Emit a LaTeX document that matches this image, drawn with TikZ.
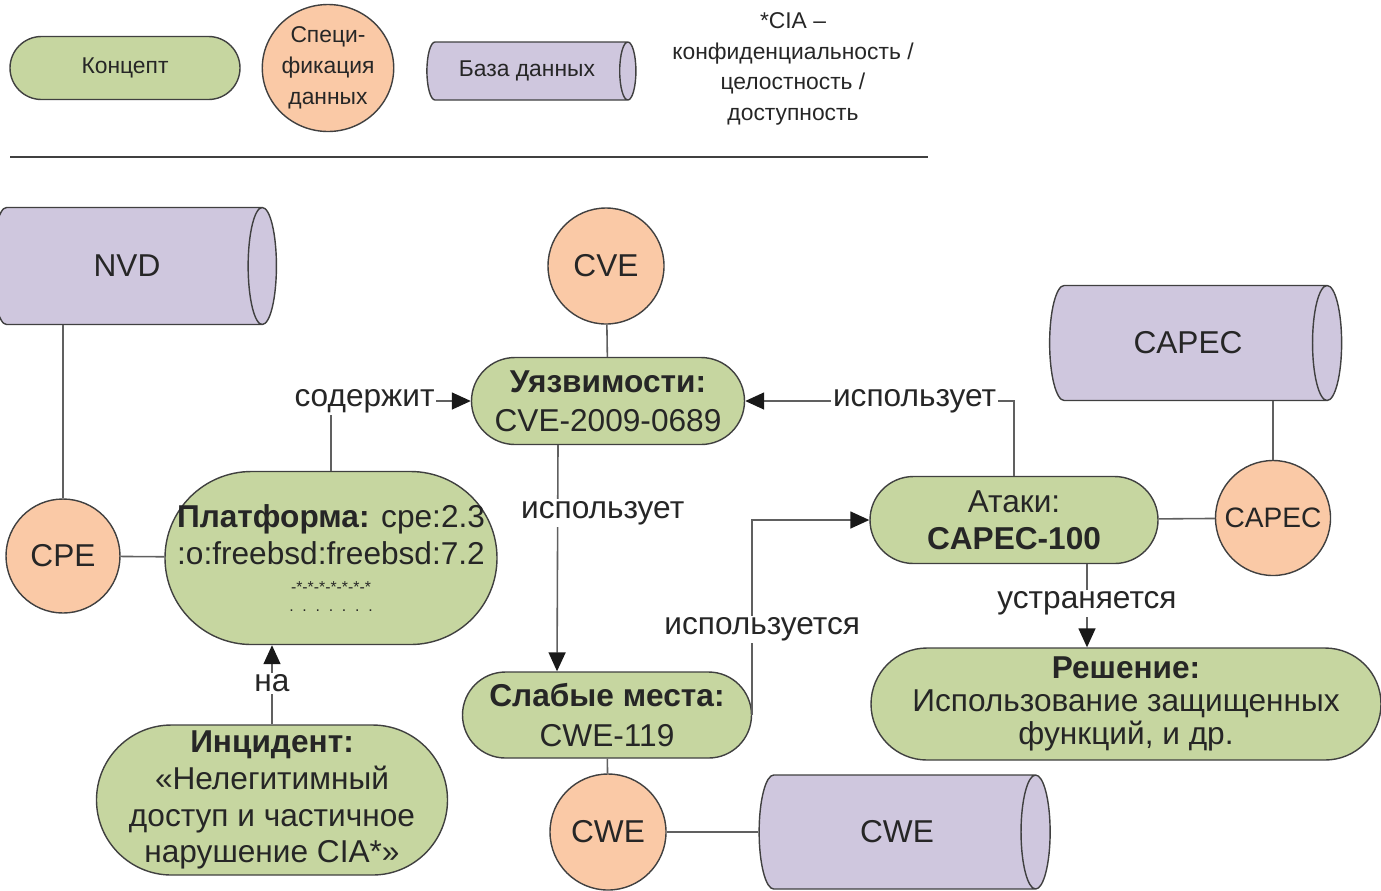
\documentclass[tikz,border=0pt]{standalone}
\usepackage{fontspec}
\setmainfont{Liberation Sans}
\usepackage{tikz}
\newcommand{\pxl}{0.02cm}
\newcommand{\labelsize}{\fontsize{18}{21}\selectfont}
\newcommand{\legendsize}{\fontsize{13}{17.5}\selectfont}
\newcommand{\tinysize}{\fontsize{9}{9}\selectfont}
\usetikzlibrary{arrows.meta,calc,shapes.geometric,shapes.misc}
\definecolor{conceptgreen}{RGB}{198,214,160}
\definecolor{specorange}{RGB}{250,201,166}
\definecolor{dbpurple}{RGB}{207,199,222}
\definecolor{outline}{RGB}{64,64,64}
\definecolor{linkgray}{RGB}{96,96,96}
\tikzset{
  >={Triangle[length=3.8mm,width=3.4mm,color=black!90]},
  font=\labelsize,
  concept/.style={draw=outline,fill=conceptgreen,shape=rectangle,rounded corners=#1,line width=0.8pt,inner sep=0,align=center,text=black!85},
  spec/.style={draw=outline,fill=specorange,shape=circle,line width=0.8pt,inner sep=0,minimum size=116*\pxl,align=center,text=black!85},
  database/.style={draw=outline,fill=dbpurple,shape=cylinder,aspect=1.3,line width=0.8pt,inner sep=0,text=black!85},
  line/.style={draw=linkgray,line width=0.9pt},
  tag/.style={fill=white,inner sep=1pt,text=black!85}
}

\begin{document}
\begin{tikzpicture}[x=\pxl,y=-\pxl]
    \useasboundingbox (0,0) rectangle (1381,890);

    \node (lconcept) [concept=0.63cm,minimum width=230*\pxl,minimum height=63*\pxl,font=\legendsize] at (125,68) {Концепт};
    \node (lspec) [spec,shape=ellipse,minimum width=113*\pxl,minimum height=127*\pxl,font=\legendsize] at (328,68) {Специ-\\фикация\\данных};
    \node (ldb) [database,aspect=0.8,minimum height=209*\pxl,minimum width=58*\pxl,font=\legendsize] at (527,71) {База данных};
    \node (cianote) [align=center,font=\legendsize,text=black!85] at (793,69) {*CIA --\\конфиденциальность /\\целостность /\\доступность};
    \draw [outline,line width=1.2pt] (10,157) -- (928,157);

    \node (nvd) [database,minimum height=284*\pxl,minimum width=117*\pxl] at (127,266) {NVD};
    \node (cve) [spec] at (606,266) {CVE};
    \node (vuln) [concept=0.87cm,minimum width=273*\pxl,minimum height=87*\pxl,font=\fontsize{18}{22}\selectfont] at (608,401) {\textbf{Уязвимости:}\\CVE-2009-0689};
    \node (capecdb) [database,minimum height=292*\pxl,minimum width=115*\pxl] at (1188,343) {CAPEC};
    \node (cpe) [spec,minimum size=114*\pxl] at (63,556) {CPE};
    \node (plat) [concept=1.73cm,minimum width=332*\pxl,minimum height=173*\pxl] at (331,558) {\textbf{Платформа:} cpe:2.3\\:o:freebsd:freebsd:7.2\\[-5pt]{\tinysize -*-*-*-*-*-*-*}\\[-10pt]{\tinysize .\ \ .\ \ .\ \ .\ \ .\ \ .\ \ .}};
    \node (attack) [concept=0.87cm,minimum width=288*\pxl,minimum height=87*\pxl] at (1014,520) {Атаки:\\\textbf{CAPEC-100}};
    \node (capec) [spec,minimum size=115*\pxl,font=\fontsize{16}{19}\selectfont] at (1273,518) {CAPEC};
    \node (sol) [concept=1.12cm,minimum width=510*\pxl,minimum height=112*\pxl,font=\fontsize{18}{19}\selectfont] at (1126,704) {\textbf{Решение:}\\Использование защищенных\\функций, и др.};
    \node (weak) [concept=0.86cm,minimum width=289*\pxl,minimum height=86*\pxl,font=\fontsize{18}{23}\selectfont] at (607,715) {\textbf{Слабые места:}\\CWE-119};
    \node (inc) [concept=1.5cm,minimum width=351*\pxl,minimum height=150*\pxl] at (272,800) {\textbf{Инцидент:}\\«Нелегитимный\\доступ и частичное\\нарушение CIA*»};
    \node (cwe) [spec] at (608,832) {CWE};
    \node (cwedb) [database,minimum height=291*\pxl,minimum width=114*\pxl] at (897,832) {CWE};

    \path [line] (cpe.north |- nvd.south) -- (cpe.north);
    \path [line] (cve) -- (vuln);
    \path [line] (capec.north |- capecdb.south) -- (capec.north);
    \path [line] (cpe) -- (plat);
    \path [line] (attack) -- (capec);
    \path [line] (weak) -- (cwe);
    \path [line] (cwe) -- (cwedb);
    \path [line,->] (plat.north) |- (vuln.west) node[tag,pos=0.62] {содержит};
    \path [line,->] ([xshift=-50*\pxl]vuln.south) -- ([xshift=-50*\pxl]weak.north) node[tag,pos=0.3,xshift=0.9cm] {использует};
    \path [line,->] (attack.north) |- (vuln.east) node[tag,pos=0.685] {использует};
    \path [line,->] (weak.east) |- (attack.west) node[tag,pos=0.22,xshift=0.2cm] {используется};
    \path [line,->] ([xshift=73*\pxl]attack.south) -- ([xshift=73*\pxl]attack.south |- sol.north) node[tag,pos=0.47] {устраняется};
    \path [line,->] (inc.north) -- (inc.north |- plat.south) node[tag,pos=0.52] {на};
  \end{tikzpicture}
\end{document}
